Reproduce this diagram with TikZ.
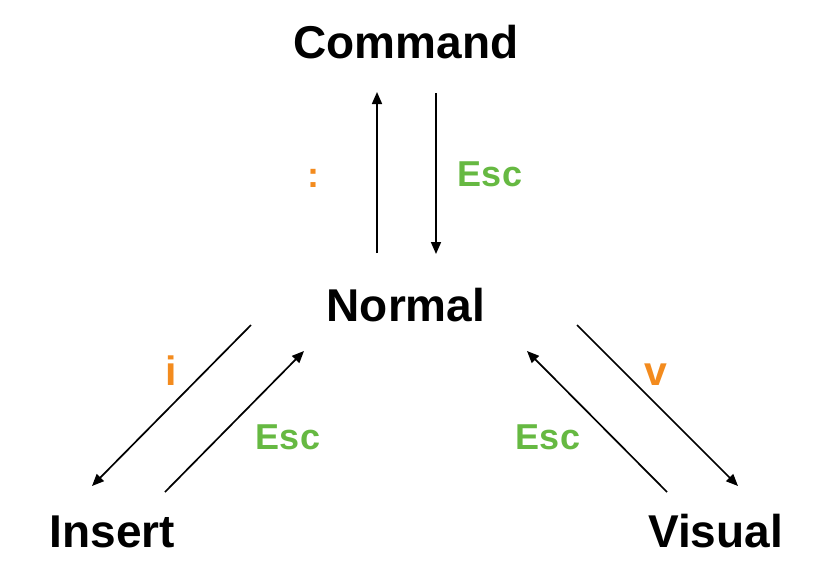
\documentclass[tikz,border=0pt]{standalone}
\usepackage{fontspec}
\setmainfont{Liberation Sans}
\usetikzlibrary{arrows.meta}
\definecolor{keyorange}{RGB}{243,139,30}
\definecolor{keygreen}{RGB}{102,185,66}
\tikzset{
  mode/.style={anchor=base, inner sep=0pt, font=\fontsize{46}{50}\selectfont\bfseries},
  keylabel/.style={inner sep=0pt, font=\fontsize{36}{40}\selectfont\bfseries},
  enter/.style={keylabel, text=keyorange},
  letterkey/.style={enter, font=\fontsize{41}{44}\selectfont\bfseries},
  back/.style={keylabel, text=keygreen},
  trans/.style={line width=1.7pt, -{Triangle[length=12pt,width=10pt]}}
}
\begin{document}
\begin{tikzpicture}[x=1pt,y=-1pt]
\useasboundingbox (0,0) rectangle (813,576);
\node[mode] (command) at (406,58) {Command};
\node[mode] (normal) at (406,321) {Normal};
\node[mode] (insert) at (112.5,547) {Insert};
\node[mode] (visual) at (715.5,547) {Visual};
% endpoints
\coordinate (nc1) at (377,253);
\coordinate (cn1) at (377,92);
\coordinate (cn2) at (436,93);
\coordinate (nc2) at (436,254);
\coordinate (ni1) at (251,325);
\coordinate (in1) at (92,486);
\coordinate (in2) at (165,492);
\coordinate (ni2) at (304,351);
\coordinate (nv1) at (577,325);
\coordinate (vn1) at (738,486);
\coordinate (vn2) at (667,492);
\coordinate (nv2) at (527,351);
\draw[trans] (nc1) -- (cn1);
\draw[trans] (cn2) -- (nc2);
\draw[trans] (ni1) -- (in1);
\draw[trans] (in2) -- (ni2);
\draw[trans] (nv1) -- (vn1);
\draw[trans] (vn2) -- (nv2);
\node[enter] (colon) at (313,178) {:};
\node[back] (esc1) at (490,174) {Esc};
\node[letterkey, anchor=base] (ikey) at (171,385) {i};
\node[back] (esc2) at (288,437) {Esc};
\node[letterkey, anchor=base] (vkey) at (656,385) {v};
\node[back] (esc3) at (548,437) {Esc};
\end{tikzpicture}
\end{document}
